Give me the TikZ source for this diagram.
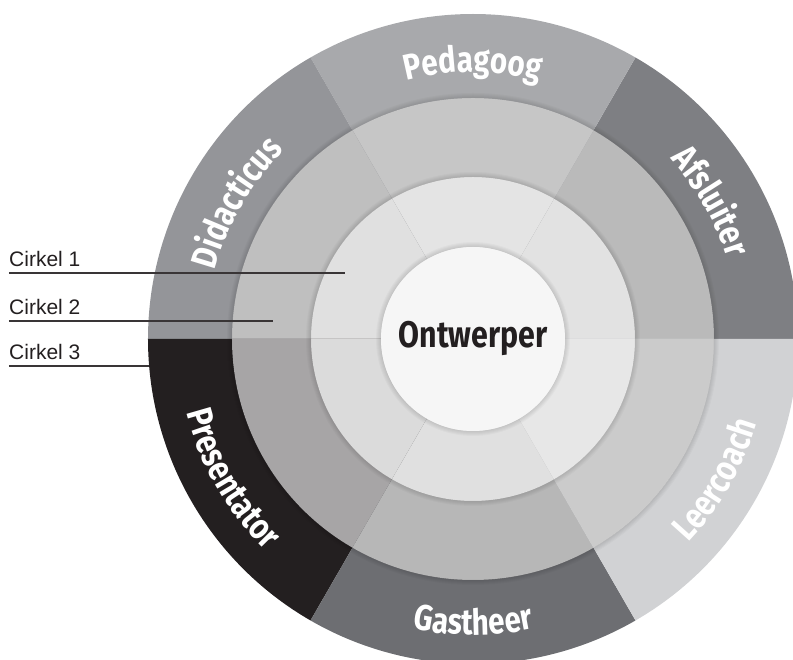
\documentclass[tikz,border=0pt]{standalone}
\usepackage{fontspec}
\setmainfont{Liberation Sans}
\newfontfamily\ringfont{Fira Sans}[FakeStretch=0.82]
\usetikzlibrary{decorations.text}

\definecolor{ink}{HTML}{231F20}
\definecolor{afsluiter}{HTML}{7E7F83}
\definecolor{pedagoog}{HTML}{A8A9AC}
\definecolor{didacticus}{HTML}{949599}
\definecolor{presentator}{HTML}{231F20}
\definecolor{gastheer}{HTML}{6D6E72}
\definecolor{leercoach}{HTML}{D1D2D4}
\definecolor{midA}{HTML}{BABABA}
\definecolor{midB}{HTML}{C6C6C6}
\definecolor{midC}{HTML}{BFBFBF}
\definecolor{midD}{HTML}{A7A5A6}
\definecolor{midE}{HTML}{B7B7B7}
\definecolor{midF}{HTML}{CBCBCB}
\definecolor{inA}{HTML}{E2E2E2}
\definecolor{inB}{HTML}{E4E4E4}
\definecolor{inC}{HTML}{E0E0E0}
\definecolor{inD}{HTML}{DBDBDB}
\definecolor{inE}{HTML}{E0E0E0}
\definecolor{inF}{HTML}{E7E7E7}
\definecolor{core}{HTML}{F6F6F6}

\begin{document}
\begin{tikzpicture}[x=1pt,y=1pt,
    cirkel/.style={anchor=south west,inner xsep=0pt,inner ysep=6pt,text=ink,font=\fontsize{21}{21}\selectfont},
    leader/.style={draw=ink!90,line width=1.2pt},
    ringtext/.style={decorate,decoration={text along path,text align=center,text color=white,
        text={|\ringfont\bfseries\fontsize{36}{36}\selectfont|#1}}}]
  \useasboundingbox (-473,-321) rectangle (320,339);
  \clip (-473,-321) rectangle (320,339);
  % three rings cut in six parts
  \foreach \a/\co/\cm/\ci in {0/afsluiter/midA/inA, 60/pedagoog/midB/inB, 120/didacticus/midC/inC,
      180/presentator/midD/inD, 240/gastheer/midE/inE, 300/leercoach/midF/inF} {
    \fill[\co] (0,0) -- (\a:325) arc[start angle=\a, delta angle=60, radius=325] -- cycle;
    \fill[\cm] (0,0) -- (\a:241) arc[start angle=\a, delta angle=60, radius=241] -- cycle;
    \fill[\ci] (0,0) -- (\a:162) arc[start angle=\a, delta angle=60, radius=162] -- cycle;
  }
  % soft edge round each ring
  \foreach \r in {92,162,241}
    \foreach \w in {1,...,5}
      \fill[black,opacity=0.022,even odd rule] (0,0) circle (\r) circle (\r+\w);
  \fill[core] (0,0) circle (92);
  \node[text=ink,font=\ringfont\bfseries\fontsize{37}{37}\selectfont] (ontwerper) at (0,1) {Ontwerper};

  % labels in the outer ring
  \path[ringtext=Didacticus] (180:267) arc[start angle=180, end angle=120, radius=267];
  \path[ringtext=Pedagoog] (120:267) arc[start angle=120, end angle=60, radius=267];
  \path[ringtext=Afsluiter] (60:267) arc[start angle=60, end angle=0, radius=267];
  \path[ringtext=Presentator] (180:296) arc[start angle=180, end angle=240, radius=296];
  \path[ringtext=Gastheer] (240:296) arc[start angle=240, end angle=300, radius=296];
  \path[ringtext=Leercoach] (300:296) arc[start angle=300, end angle=360, radius=296];

  % legend on the left
  \node[cirkel] (c1) at (-464,66) {Cirkel 1};
  \node[cirkel] (c2) at (-464,18) {Cirkel 2};
  \node[cirkel] (c3) at (-464,-27) {Cirkel 3};
  \coordinate (c1end) at (-128,66);
  \coordinate (c2end) at (-200,18);
  \coordinate (c3end) at (-324,-27);
  \draw[leader] (c1.south west) -- (c1end);
  \draw[leader] (c2.south west) -- (c2end);
  \draw[leader] (c3.south west) -- (c3end);
\end{tikzpicture}
\end{document}
